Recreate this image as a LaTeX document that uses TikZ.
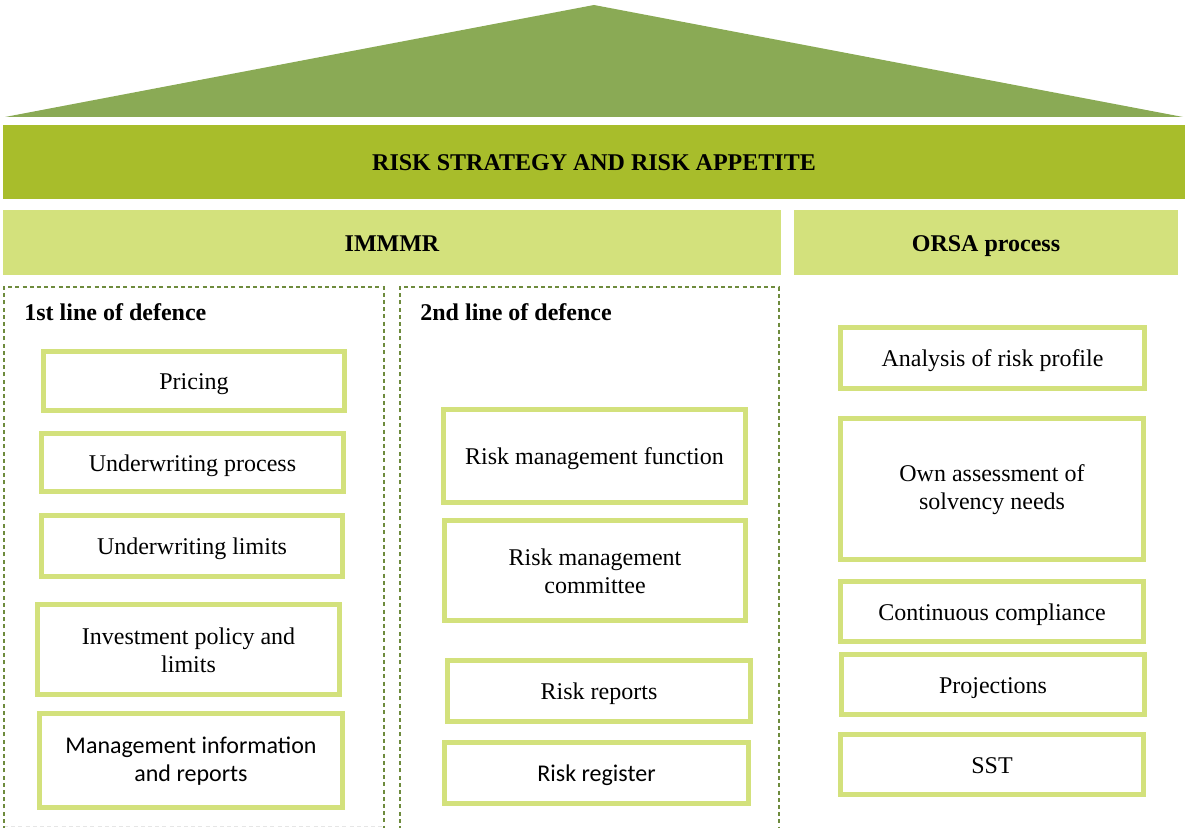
\documentclass[tikz,border=0pt]{standalone}
\usepackage{fontspec}
\setmainfont{Liberation Serif}
\newfontfamily\calibri{Carlito}
\definecolor{roofgreen}{HTML}{8AAA55}
\definecolor{darkband}{HTML}{A8BD2B}
\definecolor{lightband}{HTML}{D3E17C}
\definecolor{boxborder}{HTML}{D3E17C}
\definecolor{dashgreen}{HTML}{6E8B3D}
\definecolor{faintgrey}{HTML}{E6E6E6}
\begin{document}
\begin{tikzpicture}[x=0.5pt,y=-0.5pt,
  every node/.style={font=\fontsize{12}{14}\selectfont, text=black},
  oneline/.style={text height=9pt, text depth=0pt},
  band/.style={fill=#1, draw=none, inner sep=0pt, oneline, font=\fontsize{12}{14}\selectfont\bfseries},
  itembox/.style={draw=boxborder, line width=2.5pt, fill=white, inner sep=0pt, align=center},
  linebox/.style={draw=dashgreen, line width=0.6pt, dash pattern=on 2pt off 1.6pt},
  header/.style={anchor=west, inner sep=0pt, font=\fontsize{12}{14}\selectfont\bfseries}
]
\useasboundingbox (0,0) rectangle (1185,828);
% roof
\coordinate (roofL) at (5,117);
\coordinate (roofT) at (594,5);
\coordinate (roofR) at (1183,117);
\fill[roofgreen] (roofL) -- (roofT) -- (roofR) -- cycle;
% bands
\node[band=darkband, minimum width=591pt, minimum height=37pt] (strategy) at (594,162) {RISK STRATEGY AND RISK APPETITE};
\node[band=lightband, minimum width=389pt, minimum height=32.5pt] (immmr) at (392,242.5) {IMMMR};
\node[band=lightband, minimum width=192pt, minimum height=32.5pt] (orsa) at (986,242.5) {ORSA process};
% dashed lines of defence
\draw[faintgrey, line width=0.5pt, dash pattern=on 2pt off 1.6pt] (4,827) -- (384,827);
\draw[linebox] (4,830) -- (4,287) -- (384,287) -- (384,830);
\draw[linebox] (400,830) -- (400,287) -- (779,287) -- (779,830);
\node[header] (first) at (24,312) {1st line of defence};
\node[header] (second) at (420,312) {2nd line of defence};
% 1st line
\node[itembox, oneline, minimum width=150.5pt, minimum height=29.5pt] (pricing) at (194,381) {Pricing};
\node[itembox, oneline, minimum width=151pt, minimum height=29pt] (uwproc) at (192.5,462.5) {Underwriting process};
\node[itembox, oneline, minimum width=150.5pt, minimum height=30.5pt] (uwlim) at (192,546) {Underwriting limits};
\node[itembox, minimum width=151pt, minimum height=45pt] (invest) at (188.5,650) {Investment policy and\\limits};
\node[itembox, minimum width=151.5pt, minimum height=47pt, font=\fontsize{12}{14}\selectfont\calibri] (mgmt) at (191,761) {Management information\\and reports};
% 2nd line
\node[itembox, oneline, minimum width=151pt, minimum height=46.5pt] (rmf) at (594.5,456) {Risk management function};
\node[itembox, minimum width=150.5pt, minimum height=50pt] (rmc) at (595,571) {Risk management\\committee};
\node[itembox, oneline, minimum width=151.5pt, minimum height=30.5pt] (rrep) at (599,691) {Risk reports};
\node[itembox, oneline, minimum width=152pt, minimum height=30.5pt, font=\fontsize{12}{14}\selectfont\calibri] (rreg) at (596.5,773) {Risk register};
% ORSA
\node[itembox, oneline, minimum width=152pt, minimum height=30.5pt] (analysis) at (992.5,358) {Analysis of risk profile};
\node[itembox, minimum width=151.5pt, minimum height=70.5pt] (own) at (992,489.5) {Own assessment of\\solvency needs};
\node[itembox, oneline, minimum width=151.5pt, minimum height=30pt] (cont) at (992,611.5) {Continuous compliance};
\node[itembox, oneline, minimum width=151.5pt, minimum height=30pt] (proj) at (993,684.5) {Projections};
\node[itembox, oneline, minimum width=151.5pt, minimum height=30pt] (sst) at (992,764.5) {SST};
\end{tikzpicture}
\end{document}
